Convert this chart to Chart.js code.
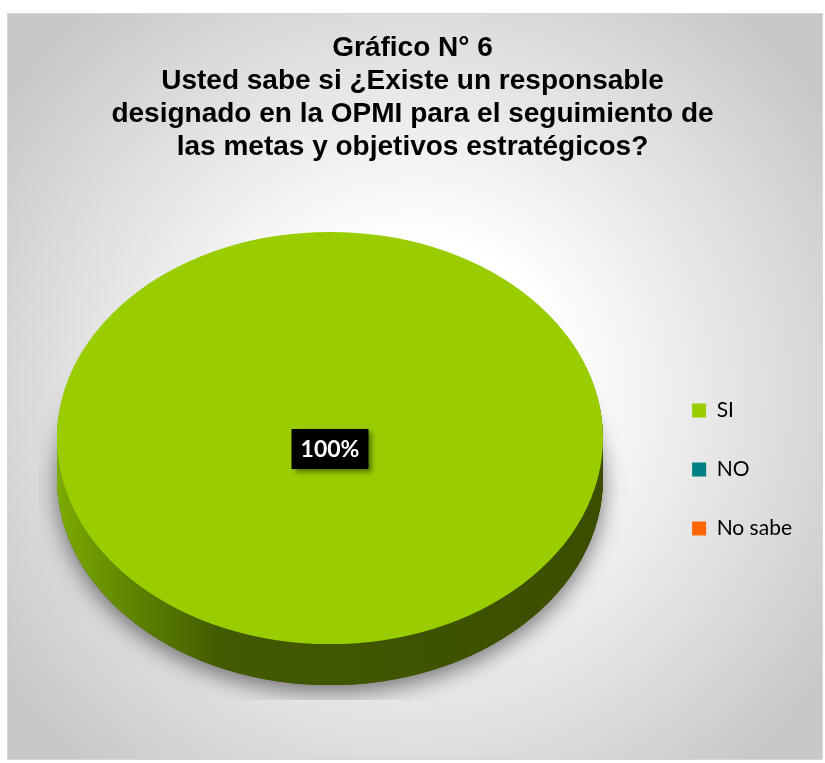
<!DOCTYPE html>
<html>
<head>
<meta charset="utf-8">
<script src="https://cdn.jsdelivr.net/npm/chart.js@4/dist/chart.umd.min.js"></script>
<style>
  html, body { margin: 0; padding: 0; background: #fff; }
  #wrap { width: 825px; height: 763px; }
</style>
</head>
<body>
<div id="wrap"><canvas id="myChart" width="825" height="763"></canvas></div>
<script>
const categories = ['SI', 'NO', 'No sabe'];
const respuestas = [100, 0, 0];
const colores = ['#9ACD00', '#008080', '#FF6600'];
const titulo = [
    'Gráfico N° 6',
    'Usted sabe si ¿Existe un responsable',
    'designado en la OPMI para el seguimiento de',
    'las metas y objetivos estratégicos?'
];

// geometry of the tilted pie
const pie = { cx: 330, cy: 438, r: 273, tilt: 0.755, depth: 41 };

function pieTransform(ctx, arc, dy) {
    ctx.translate(pie.cx, pie.cy + (dy || 0));
    ctx.scale(1, pie.tilt);
    ctx.translate(-arc.x, -arc.y);
}

// gray radial backdrop with thin frame
const fondo = {
    id: 'fondo',
    beforeDraw(chart) {
        const ctx = chart.ctx;
        ctx.save();
        ctx.fillStyle = '#fff';
        ctx.fillRect(0, 0, chart.width, chart.height);
        const g = ctx.createRadialGradient(414, 390, 0, 414, 390, 500);
        g.addColorStop(0, '#ffffff');
        g.addColorStop(0.3, '#ffffff');
        g.addColorStop(1, '#c8c8c8');
        ctx.fillStyle = g;
        ctx.fillRect(7.5, 13.5, 815, 746);
        ctx.strokeStyle = '#d6d6d6';
        ctx.lineWidth = 1;
        ctx.strokeRect(7.5, 13.5, 815, 746);
        ctx.restore();
    }
};

// side wall + shadow under the slices, then tilt the top face
const pie3d = {
    id: 'pie3d',
    beforeDatasetsDraw(chart) {
        const ctx = chart.ctx;
        const arcs = chart.getDatasetMeta(0).data;
        if (!arcs.length) return;
        const x0 = arcs[0].x;

        // soft drop shadow, cut off like the plot area
        ctx.save();
        ctx.beginPath();
        ctx.rect(38, 0, 600, 700);
        ctx.clip();
        ctx.shadowColor = 'rgba(0,0,0,0.5)';
        ctx.shadowBlur = 22;
        ctx.shadowOffsetY = 7;
        arcs.forEach(arc => {
            if (arc.circumference === 0) return;
            ctx.save();
            pieTransform(ctx, arc, pie.depth);
            const saved = arc.options.backgroundColor;
            arc.options.backgroundColor = '#3c4f00';
            arc.draw(ctx);
            arc.options.backgroundColor = saved;
            ctx.restore();
        });
        ctx.restore();

        // extruded wall
        const side = ctx.createLinearGradient(x0 - pie.r, 0, x0 + pie.r, 0);
        side.addColorStop(0, '#7cab00');
        side.addColorStop(0.14, '#5e8300');
        side.addColorStop(0.3, '#425a00');
        side.addColorStop(1, '#3b4e00');
        for (let d = pie.depth; d >= 1; d--) {
            arcs.forEach(arc => {
                if (arc.circumference === 0) return;
                ctx.save();
                pieTransform(ctx, arc, d);
                const saved = arc.options.backgroundColor;
                arc.options.backgroundColor = side;
                arc.draw(ctx);
                arc.options.backgroundColor = saved;
                ctx.restore();
            });
        }

        ctx.save();
        pieTransform(ctx, arcs[0]);
    },
    afterDatasetsDraw(chart) {
        const ctx = chart.ctx;
        ctx.restore();

        // percentage labels in black boxes
        const meta = chart.getDatasetMeta(0);
        const total = respuestas.reduce((a, b) => a + b, 0);
        meta.data.forEach((arc, i) => {
            const v = respuestas[i];
            if (!v) return;
            let x = pie.cx, y = pie.cy + 11;
            if (v < total) {
                const mid = (arc.startAngle + arc.endAngle) / 2;
                x = pie.cx + Math.cos(mid) * pie.r * 0.6;
                y = pie.cy + Math.sin(mid) * pie.r * 0.6 * pie.tilt;
            }
            const txt = Math.round(v / total * 100) + '%';
            ctx.save();
            ctx.font = 'bold 23px Lato, "Open Sans", sans-serif';
            const w = 77, h = 40;
            ctx.shadowColor = 'rgba(0,0,0,0.45)';
            ctx.shadowBlur = 5;
            ctx.shadowOffsetX = 3;
            ctx.shadowOffsetY = 3;
            ctx.fillStyle = '#000';
            ctx.fillRect(x - w / 2, y - h / 2, w, h);
            ctx.shadowColor = 'transparent';
            ctx.fillStyle = '#fff';
            ctx.textAlign = 'center';
            ctx.textBaseline = 'middle';
            ctx.fillText(txt, x, y + 1);
            ctx.restore();
        });
    }
};

const ctx = document.getElementById('myChart').getContext('2d');

const myChart = new Chart(ctx, {
    type: 'pie',
    data: {
        labels: categories,
        datasets: [{
            data: respuestas,
            backgroundColor: colores,
            borderWidth: 0,
            radius: pie.r,
            clip: false
        }]
    },
    options: {
        responsive: false,
        animation: false,
        events: [],
        layout: { padding: { left: 23, right: 23, top: 0, bottom: 0 } },
        plugins: {
            title: {
                display: true,
                fullSize: true,
                text: titulo,
                color: '#000',
                font: { family: '"Liberation Sans", Arial, sans-serif', size: 28, weight: 'bold', lineHeight: 33 / 28 },
                padding: { top: 32, bottom: 10 }
            },
            legend: {
                position: 'right',
                align: 'start',
                // empty legend title only pushes the entries down
                title: {
                    display: true,
                    text: '',
                    font: { size: 10, lineHeight: 1 },
                    padding: { top: 352, bottom: 0 }
                },
                labels: {
                    color: '#000',
                    boxWidth: 14,
                    boxHeight: 14,
                    padding: 38,
                    font: { family: 'Lato, "Open Sans", sans-serif', size: 21 }
                }
            },
            tooltip: { enabled: false }
        }
    },
    plugins: [fondo, pie3d]
});
</script>
</body>
</html>
